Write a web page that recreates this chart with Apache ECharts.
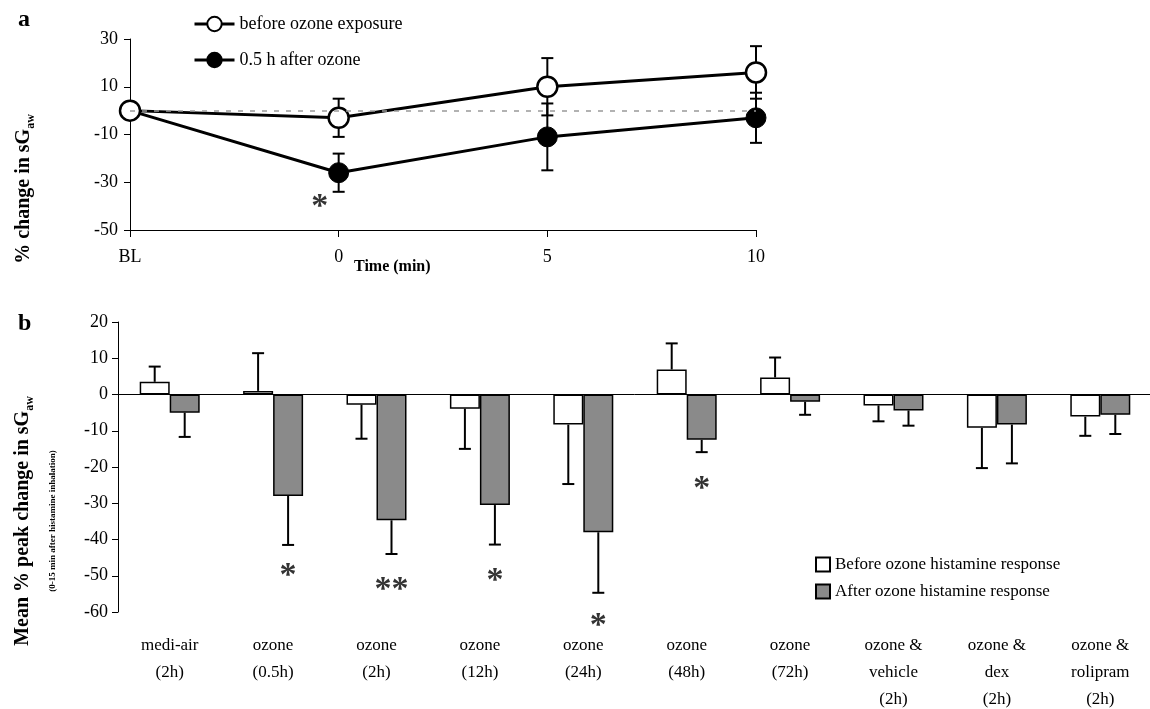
<!DOCTYPE html>
<html>
<head>
<meta charset="utf-8">
<script src="https://cdn.jsdelivr.net/npm/echarts@6/dist/echarts.min.js"></script>
<style>
  html, body { margin: 0; padding: 0; background: #fff; }
  #chart { width: 1150px; height: 709px; }
</style>
</head>
<body>
<div id="chart"></div>
<script>
// ---- panel a: time course (BL is drawn at x = -5)
const timePoints = [-5, 0, 5, 10];
const beforeMean = [0, -3, 10, 16];
const beforeErr = [0, 8, 12, 11];
const afterMean = [0, -26, -11, -3];
const afterErr = [0, 8, 14, 10.5];
const starsA = [[0, -36, '*']];

// ---- panel b: peak histamine response
const groups = ['medi-air\n(2h)', 'ozone\n(0.5h)', 'ozone\n(2h)', 'ozone\n(12h)', 'ozone\n(24h)',
  'ozone\n(48h)', 'ozone\n(72h)', 'ozone &\nvehicle\n(2h)', 'ozone &\ndex\n(2h)', 'ozone &\nrolipram\n(2h)'];
const beforeResp = [3.5, 1, -2.8, -3.9, -8.3, 6.9, 4.7, -3, -9.2, -6.1];
const beforeRespErr = [4.2, 10.4, 9.4, 11.1, 16.4, 7.2, 5.5, 4.4, 11.1, 5.3];
const afterResp = [-5, -28, -34.7, -30.5, -38, -12.5, -2, -4.4, -8.3, -5.6];
const afterRespErr = [6.7, 13.5, 9.3, 10.9, 16.7, 3.4, 3.6, 4.2, 10.7, 5.3];
const starsB = [[1, -47, '*'], [2, -51, '**'], [3, -48.6, '*'], [4, -61, '*'], [5, -23, '*']];

const FONT = 'Liberation Serif';

// symmetric error bars for panel a
function errA(mean, err) {
  return timePoints.map((t, i) => [t, mean[i] - err[i], mean[i] + err[i]]).filter((d, i) => err[i] > 0);
}
function renderErrA(params, api) {
  const lo = api.coord([api.value(0), api.value(1)]);
  const hi = api.coord([api.value(0), api.value(2)]);
  const w = 6;
  const st = { stroke: '#000', lineWidth: 2 };
  return { type: 'group', children: [
    { type: 'line', shape: { x1: lo[0], y1: lo[1], x2: hi[0], y2: hi[1] }, style: st },
    { type: 'line', shape: { x1: lo[0] - w, y1: lo[1], x2: lo[0] + w, y2: lo[1] }, style: st },
    { type: 'line', shape: { x1: hi[0] - w, y1: hi[1], x2: hi[0] + w, y2: hi[1] }, style: st }
  ] };
}

// one-sided error bars for panel b (away from zero)
function errB(mean, err) {
  return mean.map((v, i) => [i, v, v + (v >= 0 ? err[i] : -err[i])]);
}
function makeRenderErrB(shift) {
  return function (params, api) {
    const a = api.coord([api.value(0), api.value(1)]);
    const b = api.coord([api.value(0), api.value(2)]);
    const x = a[0] + shift;
    const w = 6;
    const st = { stroke: '#000', lineWidth: 2 };
    return { type: 'group', children: [
      { type: 'line', shape: { x1: x, y1: a[1], x2: x, y2: b[1] }, style: st },
      { type: 'line', shape: { x1: x - w, y1: b[1], x2: x + w, y2: b[1] }, style: st }
    ] };
  };
}

const chart = echarts.init(document.getElementById('chart'));
const tick = { color: '#000', fontFamily: FONT, fontSize: 18 };
const starLabel = { show: true, formatter: p => p.value[2], color: '#000',
  fontFamily: FONT, fontWeight: 'bold', fontSize: 34 };
const subRich = {
  m: { font: 'bold 20px ' + FONT, fill: '#000', lineHeight: 26, verticalAlign: 'middle' },
  s: { font: 'bold 12px ' + FONT, fill: '#000', lineHeight: 12, verticalAlign: 'bottom' }
};

chart.setOption({
  animation: false,
  textStyle: { fontFamily: FONT, color: '#000' },
  grid: [
    { left: 130, top: 39, width: 626, height: 191, outerBoundsMode: 'none' },
    { left: 118, top: 322, width: 1034, height: 290, outerBoundsMode: 'none' }
  ],
  xAxis: [
    {
      gridIndex: 0, type: 'value', min: -5, max: 10, interval: 5,
      axisLine: { onZero: false, lineStyle: { color: '#000', width: 1 } },
      axisTick: { length: 7, lineStyle: { color: '#000' } },
      axisLabel: Object.assign({ margin: 18, formatter: v => (v === -5 ? 'BL' : String(v)) }, tick),
      splitLine: { show: false }
    },
    {
      gridIndex: 1, type: 'category', data: groups, position: 'bottom',
      axisLine: { show: false, onZero: false }, axisTick: { show: false },
      axisLabel: { interval: 0, margin: 20, color: '#000', fontFamily: FONT, fontSize: 17, lineHeight: 27 }
    },
    {
      gridIndex: 1, type: 'category', data: groups, position: 'top',
      axisLine: { onZero: true, lineStyle: { color: '#000', width: 1 } },
      axisTick: { inside: true, length: 6, lineStyle: { color: '#000' } },
      axisLabel: { show: false }
    }
  ],
  yAxis: [
    {
      gridIndex: 0, type: 'value', min: -50, max: 30,
      axisLine: { show: true, onZero: false, lineStyle: { color: '#000', width: 1 } },
      axisTick: { show: true, length: 6, customValues: [-50, -30, -10, 10, 30], lineStyle: { color: '#000' } },
      axisLabel: Object.assign({ margin: 12, customValues: [-50, -30, -10, 10, 30] }, tick),
      splitLine: { show: false }
    },
    {
      gridIndex: 1, type: 'value', min: -60, max: 20, interval: 10,
      axisLine: { show: true, onZero: false, lineStyle: { color: '#000', width: 1 } },
      axisTick: { show: true, length: 6, lineStyle: { color: '#000' } },
      axisLabel: Object.assign({ margin: 10 }, tick),
      splitLine: { show: false }
    }
  ],
  legend: [
    {
      left: 188, top: 10, orient: 'vertical', itemGap: 18, itemWidth: 40, itemHeight: 18,
      data: ['before ozone exposure', '0.5 h after ozone'],
      lineStyle: { width: 3 },
      textStyle: { fontFamily: FONT, fontSize: 18, color: '#000' }
    },
    {
      left: 810, top: 551, orient: 'vertical', itemGap: 10, itemWidth: 14, itemHeight: 14,
      icon: 'rect',
      data: ['Before ozone histamine response', 'After ozone histamine response'],
      textStyle: { fontFamily: FONT, fontSize: 17, color: '#000' }
    }
  ],
  graphic: [
    { type: 'text', left: 18, top: 8, style: { text: 'a', font: 'bold 24px ' + FONT, fill: '#000' } },
    { type: 'text', left: 18, top: 312, style: { text: 'b', font: 'bold 24px ' + FONT, fill: '#000' } },
    { type: 'text', left: 354, top: 259, style: { text: 'Time (min)', font: 'bold 16px ' + FONT, fill: '#000' } },
    {
      type: 'text', x: 24, y: 189, rotation: Math.PI / 2,
      style: { text: '{m|% change in sG}{s|aw}', fill: '#000', align: 'center', verticalAlign: 'middle', rich: subRich }
    },
    {
      type: 'text', x: 23, y: 521, rotation: Math.PI / 2,
      style: { text: '{m|Mean % peak change in sG}{s|aw}', fill: '#000', align: 'center', verticalAlign: 'middle', rich: subRich }
    },
    {
      type: 'text', x: 53, y: 521, rotation: Math.PI / 2,
      style: {
        text: '(0-15 min after histamine inhalation)', font: 'bold 9px ' + FONT, fill: '#000',
        align: 'center', verticalAlign: 'middle'
      }
    }
  ],
  series: [
    // panel a
    {
      type: 'custom', xAxisIndex: 0, yAxisIndex: 0, z: 1,
      renderItem: renderErrA, data: errA(beforeMean, beforeErr)
    },
    {
      type: 'custom', xAxisIndex: 0, yAxisIndex: 0, z: 1,
      renderItem: renderErrA, data: errA(afterMean, afterErr)
    },
    {
      name: '0.5 h after ozone', type: 'line', xAxisIndex: 0, yAxisIndex: 0, z: 3,
      data: timePoints.map((t, i) => [t, afterMean[i]]),
      symbol: 'circle', symbolSize: 20,
      lineStyle: { color: '#000', width: 3 },
      itemStyle: { color: '#000', borderColor: '#000', borderWidth: 1 },
      markLine: {
        silent: true, symbol: 'none', label: { show: false },
        lineStyle: { color: '#999', type: [5, 7], width: 1.5 },
        data: [{ yAxis: 0 }]
      }
    },
    {
      name: 'before ozone exposure', type: 'line', xAxisIndex: 0, yAxisIndex: 0, z: 4,
      data: timePoints.map((t, i) => [t, beforeMean[i]]),
      symbol: 'circle', symbolSize: 20,
      lineStyle: { color: '#000', width: 3 },
      itemStyle: { color: '#fff', borderColor: '#000', borderWidth: 2.5 }
    },
    {
      type: 'scatter', xAxisIndex: 0, yAxisIndex: 0, z: 5, symbolSize: 1,
      itemStyle: { color: 'rgba(0,0,0,0)' }, data: starsA,
      label: Object.assign({ offset: [-19, 11] }, starLabel)
    },
    // panel b
    {
      name: 'Before ozone histamine response', type: 'bar', xAxisIndex: 1, yAxisIndex: 1,
      data: beforeResp, barWidth: 30, barGap: '0%',
      itemStyle: { color: '#fff', borderColor: '#000', borderWidth: 1.5 }
    },
    {
      name: 'After ozone histamine response', type: 'bar', xAxisIndex: 1, yAxisIndex: 1,
      data: afterResp, barWidth: 30, barGap: '0%',
      itemStyle: { color: '#8a8a8a', borderColor: '#000', borderWidth: 1.5 }
    },
    {
      type: 'custom', xAxisIndex: 1, yAxisIndex: 1, z: 3,
      renderItem: makeRenderErrB(-15), data: errB(beforeResp, beforeRespErr)
    },
    {
      type: 'custom', xAxisIndex: 1, yAxisIndex: 1, z: 3,
      renderItem: makeRenderErrB(15), data: errB(afterResp, afterRespErr)
    },
    {
      type: 'scatter', xAxisIndex: 1, yAxisIndex: 1, z: 5, symbolSize: 1, clip: false,
      itemStyle: { color: 'rgba(0,0,0,0)' }, data: starsB,
      label: Object.assign({ offset: [15, 11] }, starLabel)
    }
  ]
});
</script>
</body>
</html>
